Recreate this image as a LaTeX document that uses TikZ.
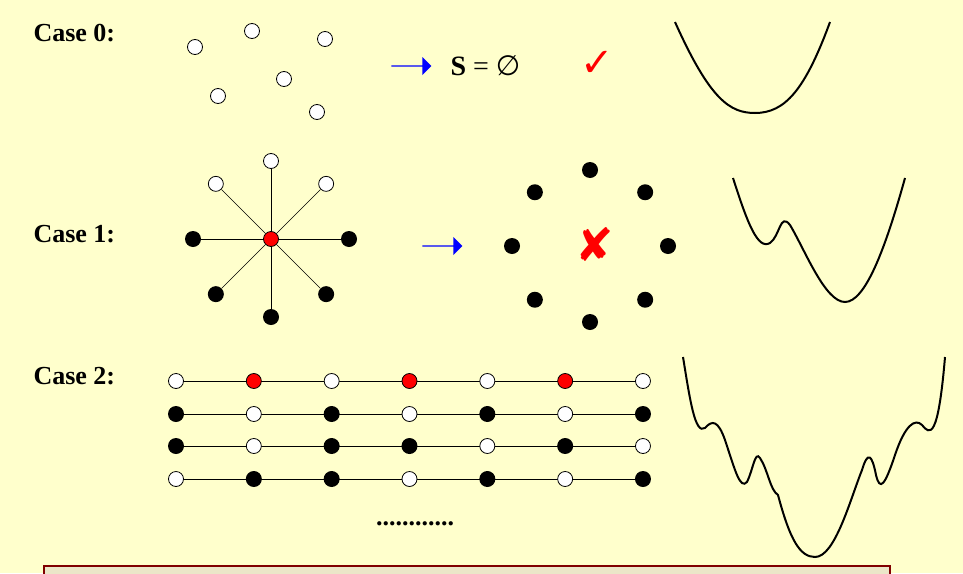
\documentclass[tikz,border=0pt]{standalone}
\usepackage{fontspec}
\setmainfont{Liberation Serif}
\newfontfamily\symfont{DejaVu Sans}
\usetikzlibrary{shapes.arrows,calc}
\definecolor{bgyellow}{RGB}{255,255,204}
\definecolor{boxred}{RGB}{128,0,0}
\definecolor{boxfill}{RGB}{235,230,200}
\begin{document}
\begin{tikzpicture}[x=1pt,y=-1pt,
    opendot/.style={circle, draw, fill=white, inner sep=0pt, minimum size=15pt, line width=0.8pt},
    fulldot/.style={circle, fill=black, inner sep=0pt, minimum size=16pt},
    reddot/.style={circle, draw, fill=red, inner sep=0pt, minimum size=15pt, line width=0.8pt},
    caselabel/.style={font=\fontsize{26}{26}\selectfont\bfseries, anchor=west},
    bluearrow/.style={single arrow, fill=blue, inner sep=0pt, minimum height=40pt, minimum width=18pt, single arrow head extend=3pt},
    landscape/.style={line width=2pt}
]
\fill[bgyellow] (0,0) rectangle (963,573);
\useasboundingbox (0,0) rectangle (963,573);

% Case 0
\node[caselabel] (lab0) at (30,33) {Case 0:};
\foreach \x/\y [count=\i] in {195/47,252/31,325/39,284/79,218/96,317/112}
  \node[opendot] (a\i) at (\x,\y) {};
\node[bluearrow] (arr0) at (411,66) {};
\node[font=\fontsize{28}{28}\selectfont, anchor=west] (empty) at (447,66) {\textbf{S} = \symfont ∅};
\node[text=red, font=\fontsize{40}{40}\selectfont\symfont] (check) at (597,64) {✓};
\draw[landscape] (675,22) .. controls (710,100) and (730,113) .. (755,113)
  .. controls (785,113) and (805,90) .. (830,22);

% Case 1
\node[caselabel] (lab1) at (30,234) {Case 1:};
\node[reddot] (hub) at (271,239) {};
\foreach \a/\s [count=\i] in {90/opendot,45/opendot,0/fulldot,-45/fulldot,-90/fulldot,-135/fulldot,180/fulldot,135/opendot}
  \node[\s] (r\i) at ($(271,239)+(\a:78 and -78)$) {};
\foreach \i in {1,...,8}
  \draw (hub) -- (r\i);
\node[bluearrow] (arr1) at (442,246) {};
\foreach \a [count=\i] in {90,45,0,-45,-90,-135,180,135}
  \node[fulldot] (b\i) at ($(590,246)+(\a:78 and -76)$) {};
\node[text=red, font=\fontsize{46}{46}\selectfont\bfseries\symfont] (cross) at (595,245) {✘};
\draw[landscape] (733,178) .. controls (748,225) and (758,250) .. (770,243)
  .. controls (780,236) and (780,212) .. (790,225)
  .. controls (805,250) and (825,302) .. (845,302)
  .. controls (865,302) and (885,250) .. (905,178);

% Case 2
\node[caselabel] (lab2) at (30,376) {Case 2:};
\foreach \row/\y/\pat in {1/381/{opendot,reddot,opendot,reddot,opendot,reddot,opendot},
                          2/414/{fulldot,opendot,fulldot,opendot,fulldot,opendot,fulldot},
                          3/446/{fulldot,opendot,fulldot,fulldot,opendot,fulldot,opendot},
                          4/479/{opendot,fulldot,fulldot,opendot,fulldot,opendot,fulldot}} {
  \draw (176,\y) -- (643,\y);
  \foreach \s [count=\k] in \pat {
    \pgfmathsetmacro{\xx}{176+(\k-1)*77.83}
    \node[\s] (c\row-\k) at (\xx,\y) {};
  }
}
\node[font=\fontsize{26}{26}\selectfont\bfseries] (more) at (415,524) {............};
\draw[landscape] (683,357) .. controls (690,400) and (695,435) .. (705,428)
  .. controls (712,420) and (718,420) .. (725,440)
  .. controls (735,470) and (740,490) .. (747,482)
  .. controls (753,470) and (755,450) .. (760,458)
  .. controls (768,470) and (770,490) .. (778,495)
  .. controls (790,540) and (800,557) .. (815,557)
  .. controls (835,557) and (850,500) .. (862,470)
  .. controls (868,450) and (872,455) .. (876,475)
  .. controls (880,492) and (885,485) .. (895,455)
  .. controls (905,425) and (915,418) .. (922,425)
  .. controls (930,435) and (938,440) .. (945,357);

% box at bottom
\draw[boxred, fill=boxfill, line width=2pt] (44,566) rectangle (890,580);
\end{tikzpicture}
\end{document}
